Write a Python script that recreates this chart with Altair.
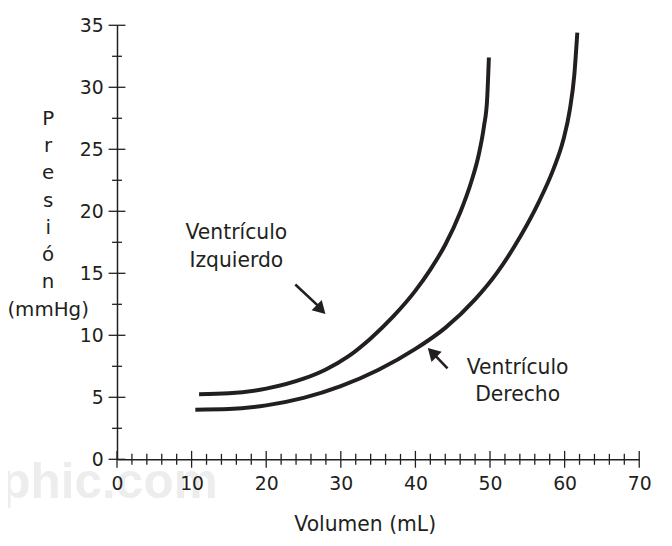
import altair as alt
import pandas as pd

INK = "#231f20"
FONT = "DejaVu Sans"

# Left ventricle (Ventrículo Izquierdo) pressure-volume curve
lv_vol = [11, 15, 20, 25, 28, 31, 34, 37, 40, 42, 44, 46, 47.5, 48.5, 49.2, 49.6, 49.85]
lv_pres = [5.25, 5.32, 5.7, 6.5, 7.25, 8.3, 9.75, 11.5, 13.6, 15.3, 17.3, 19.9, 22.4, 24.6, 26.9, 28.9, 32.4]

# Right ventricle (Ventrículo Derecho)
rv_vol = [10.5, 15, 20, 25, 30, 35, 40, 44, 48, 51, 54, 56.5, 58.5, 59.8, 60.7, 61.3, 61.7]
rv_pres = [4.0, 4.05, 4.35, 4.95, 5.9, 7.2, 8.9, 10.6, 12.9, 15.1, 17.9, 20.7, 23.4, 25.7, 28.2, 31.0, 34.4]

x_major = [0, 10, 20, 30, 40, 50, 60, 70]
x_minor = [v for v in range(0, 71, 2) if v % 10]
y_major = [0, 5, 10, 15, 20, 25, 30, 35]
y_minor = [2.5, 7.5, 12.5, 17.5, 22.5, 27.5, 32.5]

label_text = ["Ventrículo", "Izquierdo", "Ventrículo", "Derecho"]
label_x = [16.0, 16.0, 53.7, 53.7]
label_y = [17.76, 15.52, 6.88, 4.74]

arrow_x = [23.9, 44.3]
arrow_y = [14.1, 7.34]
arrow_x2 = [27.0, 42.6]
arrow_y2 = [12.35, 8.4]
head_x = [27.35, 42.25]
head_y = [12.08, 8.62]
head_angle = [135, 315]

X = alt.Scale(domain=[0, 70], nice=False, zero=False)
Y = alt.Scale(domain=[0, 35], nice=False, zero=False)

curves = pd.DataFrame(
    {
        "vol": lv_vol + rv_vol,
        "pres": lv_pres + rv_pres,
        "series": ["LV"] * len(lv_vol) + ["RV"] * len(rv_vol),
        "i": list(range(len(lv_vol))) + list(range(len(rv_vol))),
    }
)

x_axis = alt.Axis(
    values=x_major,
    format="d",
    ticks=False,
    tickSize=0,
    labelPadding=15,
    labelFlush=False,
    labelOverlap=False,
    labelFontSize=19,
    labelColor=INK,
    labelFont=FONT,
    domainColor=INK,
    domainWidth=1.5,
    grid=False,
    title="Volumen (mL)",
    titleFont=FONT,
    titleFontSize=20.5,
    titleFontWeight="normal",
    titleColor=INK,
    titleX=250,
    titleY=66,
    titleAlign="center",
    titleBaseline="middle",
    zindex=1,
)
y_axis = alt.Axis(
    values=y_major,
    format="d",
    ticks=False,
    tickSize=0,
    labelPadding=14,
    labelFlush=False,
    labelOverlap=False,
    labelFontSize=19,
    labelColor=INK,
    labelFont=FONT,
    domainColor=INK,
    domainWidth=1.5,
    grid=False,
    title=["P", "r", "e", "s", "i", "ó", "n", "(mmHg)"],
    titleFont=FONT,
    titleFontSize=20,
    titleFontWeight="normal",
    titleColor=INK,
    titleAngle=0,
    titleX=-70,
    titleY=84,
    titleAlign="center",
    titleBaseline="top",
    titleLineHeight=27.5,
    zindex=1,
)


def xe(field):
    return alt.X(field, scale=X, axis=x_axis)


def ye(field):
    return alt.Y(field, scale=Y, axis=y_axis)


wm = alt.Chart(pd.DataFrame({"t": ["aphic.com"], "x": [13.5], "y": [-3.1]})).mark_text(
    font="Liberation Sans",
    fontSize=50,
    fontWeight="bold",
    color="#ededed",
    align="right",
    baseline="alphabetic",
).encode(x=xe("x:Q"), y=ye("y:Q"), text="t:N")

lines = alt.Chart(curves).mark_line(color=INK, strokeWidth=4, interpolate="monotone").encode(
    x=xe("vol:Q"),
    y=ye("pres:Q"),
    detail="series:N",
    order="i:Q",
)


def vticks(vals, size):
    df = pd.DataFrame({"v": vals, "z": [0] * len(vals)})
    return alt.Chart(df).mark_tick(
        orient="vertical", size=size, thickness=1.3, color=INK, opacity=1
    ).encode(x=xe("v:Q"), y=ye("z:Q"))


def hticks(vals, size):
    df = pd.DataFrame({"v": vals, "z": [0] * len(vals)})
    return alt.Chart(df).mark_tick(
        orient="horizontal", size=size, thickness=1.3, color=INK, opacity=1
    ).encode(y=ye("v:Q"), x=xe("z:Q"))


arrows_df = pd.DataFrame(
    {"x": arrow_x, "y": arrow_y, "x2": arrow_x2, "y2": arrow_y2,
     "hx": head_x, "hy": head_y, "ang": head_angle}
)
arrow_lines = alt.Chart(arrows_df).mark_rule(color=INK, strokeWidth=2.6).encode(
    x=xe("x:Q"), y=ye("y:Q"), x2="x2:Q", y2="y2:Q"
)
arrow_heads = alt.Chart(arrows_df).mark_point(
    shape="triangle-up", filled=True, color=INK, opacity=1, size=210
).encode(
    x=xe("hx:Q"),
    y=ye("hy:Q"),
    angle=alt.Angle("ang:Q", scale=None),
)

labels = alt.Chart(pd.DataFrame({"t": label_text, "x": label_x, "y": label_y})).mark_text(
    font=FONT, fontSize=20.5, color=INK, align="center", baseline="alphabetic"
).encode(x=xe("x:Q"), y=ye("y:Q"), text="t:N")

chart = (
    alt.layer(
        wm,
        lines,
        vticks(x_major, 17),
        vticks(x_minor, 11),
        hticks(y_major, 17),
        hticks(y_minor, 10),
        arrow_lines,
        arrow_heads,
        labels,
    )
    .properties(
        width=527,
        height=438,
        autosize=alt.AutoSizeParams(type="none"),
        padding={"left": 110, "top": 15, "right": 25, "bottom": 80},
        background="white",
    )
    .configure_view(stroke=None)
)

chart.save("out.html", embed_options={"renderer": "svg", "actions": False})
